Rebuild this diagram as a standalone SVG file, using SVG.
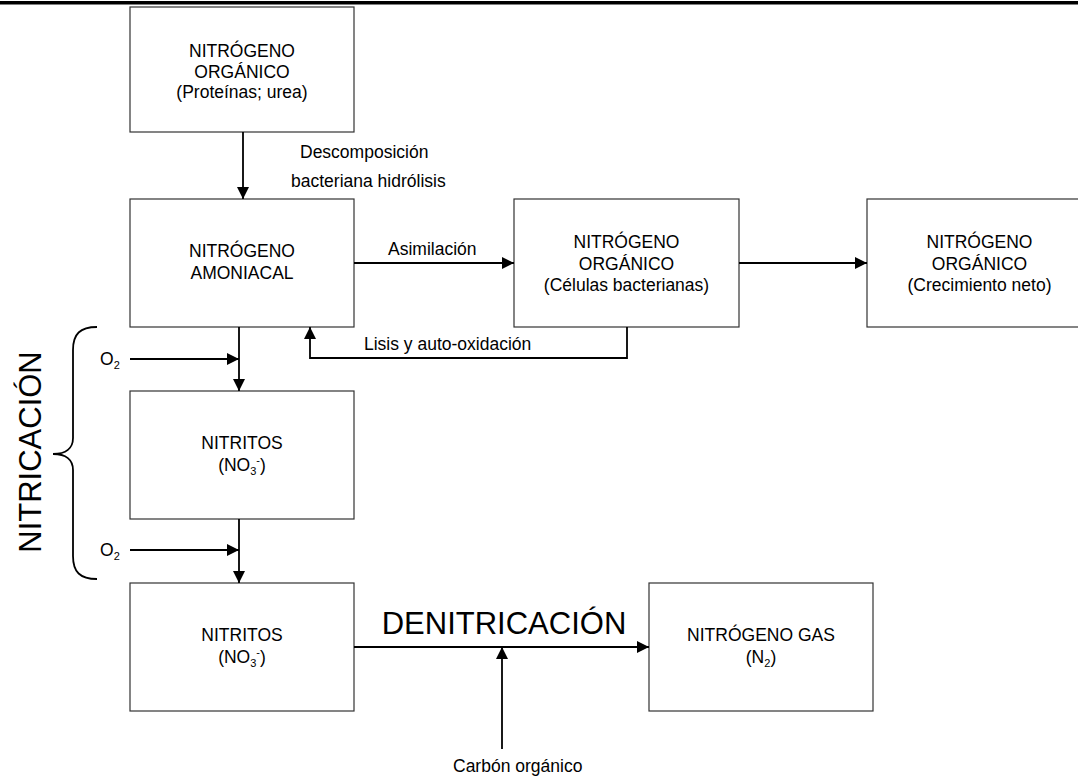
<svg xmlns="http://www.w3.org/2000/svg" width="1078" height="778" viewBox="0 0 1078 778">
<defs>
<style>
.box{fill:#fff;stroke:#333;stroke-width:1.2}
.t{font-family:"Liberation Sans",Arial,sans-serif;font-size:17.5px;fill:#000;text-anchor:middle}
.l{font-family:"Liberation Sans",Arial,sans-serif;font-size:17.5px;fill:#000}
.big{font-family:"Liberation Sans",Arial,sans-serif;font-size:31px;fill:#000;text-anchor:middle}
.c{fill:none;stroke:#000;stroke-width:1.8}
</style>
<marker id="ah" viewBox="0 0 12 12" refX="12" refY="6" markerWidth="12" markerHeight="12" markerUnits="userSpaceOnUse" orient="auto">
<path d="M0,0 L12,6 L0,12 z" fill="#000"/>
</marker>
</defs>
<rect x="0" y="1" width="1078" height="3.5" fill="#000"/>

<g id="n1"><rect class="box" x="130" y="7" width="224" height="125"/>
<text class="t" x="242" y="57">NITRÓGENO</text><text class="t" x="242" y="78">ORGÁNICO</text><text class="t" x="242" y="98">(Proteínas; urea)</text></g>

<g id="n2"><rect class="box" x="130" y="199" width="224" height="128"/>
<text class="t" x="242" y="257">NITRÓGENO</text><text class="t" x="242" y="279">AMONIACAL</text></g>

<g id="n3"><rect class="box" x="514" y="199" width="225" height="128"/>
<text class="t" x="626.5" y="248">NITRÓGENO</text><text class="t" x="626.5" y="270">ORGÁNICO</text><text class="t" x="626.5" y="291">(Células bacterianas)</text></g>

<g id="n4"><rect class="box" x="867" y="199" width="225" height="128"/>
<text class="t" x="979.5" y="248">NITRÓGENO</text><text class="t" x="979.5" y="270">ORGÁNICO</text><text class="t" x="979.5" y="291">(Crecimiento neto)</text></g>

<g id="n5"><rect class="box" x="130" y="391" width="224" height="128"/>
<text class="t" x="242" y="449">NITRITOS</text><text class="t" x="242" y="471">(NO<tspan font-size="11" dy="4">3</tspan><tspan font-size="11" dy="-11">-</tspan><tspan dy="7">)</tspan></text></g>

<g id="n6"><rect class="box" x="130" y="583" width="224" height="128"/>
<text class="t" x="242" y="641">NITRITOS</text><text class="t" x="242" y="663">(NO<tspan font-size="11" dy="4">3</tspan><tspan font-size="11" dy="-11">-</tspan><tspan dy="7">)</tspan></text></g>

<g id="n7"><rect class="box" x="649" y="583" width="224" height="128"/>
<text class="t" x="761" y="641">NITRÓGENO GAS</text><text class="t" x="761" y="663">(N<tspan font-size="11" dy="4">2</tspan><tspan dy="-4">)</tspan></text></g>

<g id="connectors">
<line class="c" x1="243" y1="132" x2="243" y2="199" marker-end="url(#ah)"/>
<line class="c" x1="354" y1="263" x2="514" y2="263" marker-end="url(#ah)"/>
<line class="c" x1="739" y1="263" x2="867" y2="263" marker-end="url(#ah)"/>
<polyline class="c" points="627,327 627,358 310,358 310,327" marker-end="url(#ah)"/>
<line class="c" x1="239" y1="327" x2="239" y2="391" marker-end="url(#ah)"/>
<line class="c" x1="130" y1="359" x2="239" y2="359" marker-end="url(#ah)"/>
<line class="c" x1="239" y1="519" x2="239" y2="583" marker-end="url(#ah)"/>
<line class="c" x1="130" y1="550" x2="239" y2="550" marker-end="url(#ah)"/>
<line class="c" x1="354" y1="647" x2="649" y2="647" marker-end="url(#ah)"/>
<line class="c" x1="502" y1="749" x2="502" y2="647" marker-end="url(#ah)"/>
<path class="c" d="M97,327 C80,327 73,334 73,350 L73,438 C73,448 66,454 53,454 C66,454 73,460 73,470 L73,556 C73,572 80,579 97,579"/>
</g>

<g id="labels">
<text class="l" x="300" y="158">Descomposición</text>
<text class="l" x="291" y="187">bacteriana hidrólisis</text>
<text class="l" x="388" y="255">Asimilación</text>
<text class="l" x="364" y="350">Lisis y auto-oxidación</text>
<text class="l" x="100" y="365">O<tspan font-size="11" dy="4">2</tspan></text>
<text class="l" x="100" y="556">O<tspan font-size="11" dy="4">2</tspan></text>
<text class="l" x="453" y="772">Carbón orgánico</text>
<text class="big" x="504" y="634">DENITRICACIÓN</text>
<text class="big" transform="translate(41,452) rotate(-90)" x="0" y="0">NITRICACIÓN</text>
</g>
</svg>
